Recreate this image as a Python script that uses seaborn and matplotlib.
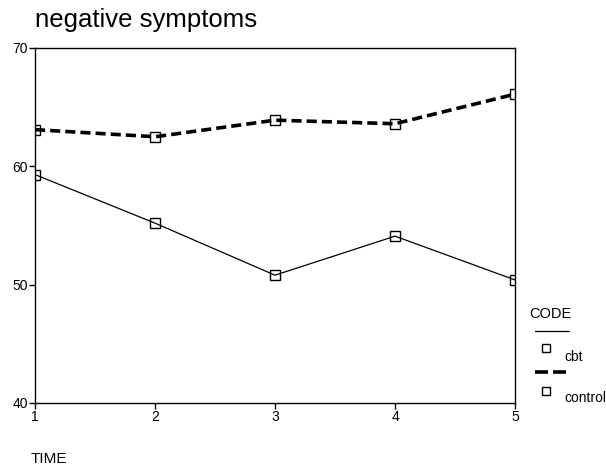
import numpy as np
import pandas as pd
import matplotlib
matplotlib.use("Agg")
import matplotlib.pyplot as plt
import seaborn as sns
from matplotlib.lines import Line2D

# values
time_points = [1, 2, 3, 4, 5]
cbt_values = [59.3, 55.2, 50.8, 54.1, 50.4]
control_values = [63.1, 62.5, 63.9, 63.6, 66.1]
y_ticks = [40, 50, 60, 70]

df = pd.DataFrame({
    "TIME": time_points * 2,
    "score": cbt_values + control_values,
    "CODE": ["cbt"] * 5 + ["control"] * 5,
})

sns.set_theme(style="white")
plt.rcParams["font.family"] = ["Liberation Sans", "DejaVu Sans"]
plt.rcParams["text.color"] = "black"

fig = plt.figure(figsize=(6.06, 4.76), dpi=100)
ax = fig.add_axes([35 / 606, 1 - 403 / 476, 480 / 606, 355 / 476])

sns.lineplot(data=df, x="TIME", y="score", hue="CODE", style="CODE",
             palette={"cbt": "black", "control": "black"},
             dashes={"cbt": "", "control": (2.8, 1.4)},
             markers={"cbt": "s", "control": "s"},
             size="CODE", sizes={"cbt": 0.9, "control": 2.6},
             markersize=7, markerfacecolor="none", markeredgecolor="black",
             markeredgewidth=1.0, legend=False, ax=ax)

ax.set_xlim(1, 5)
ax.set_ylim(40, 70)
ax.set_xticks(time_points)
ax.set_yticks(y_ticks)
ax.tick_params(axis="both", direction="out", length=4, width=1, colors="black",
               labelsize=10, bottom=True, left=True, pad=1)
for s in ax.spines.values():
    s.set_color("black")
    s.set_linewidth(1.0)
ax.set_xlabel("")
ax.set_ylabel("")

fig.text(35 / 606, 1 - 20 / 476, "negative symptoms", fontsize=18.5,
         va="center", ha="left", color="black")
fig.text(31 / 606, 1 - 459 / 476, "TIME", fontsize=11, va="center", ha="left",
         color="black")

# hand-made legend to the right of the plot
fig.text(529 / 606, 1 - 314 / 476, "CODE", fontsize=10.5, va="center", ha="left",
         color="black")
fig.add_artist(Line2D([535 / 606, 569 / 606], [1 - 331 / 476] * 2,
                      color="black", lw=0.9, transform=fig.transFigure))
fig.add_artist(Line2D([546 / 606], [1 - 348 / 476], marker="s", markersize=6,
                      markerfacecolor="none", markeredgecolor="black",
                      transform=fig.transFigure))
fig.text(564 / 606, 1 - 357 / 476, "cbt", fontsize=10, va="center", ha="left",
         color="black")
fig.add_artist(Line2D([535 / 606, 569 / 606], [1 - 372 / 476] * 2,
                      color="black", lw=2.6, dashes=(3.6, 1.4),
                      transform=fig.transFigure))
fig.add_artist(Line2D([546 / 606], [1 - 391 / 476], marker="s", markersize=6,
                      markerfacecolor="none", markeredgecolor="black",
                      transform=fig.transFigure))
fig.text(564 / 606, 1 - 398 / 476, "control", fontsize=10, va="center", ha="left",
         color="black")

fig.savefig("out.png", dpi=100, facecolor="white")
